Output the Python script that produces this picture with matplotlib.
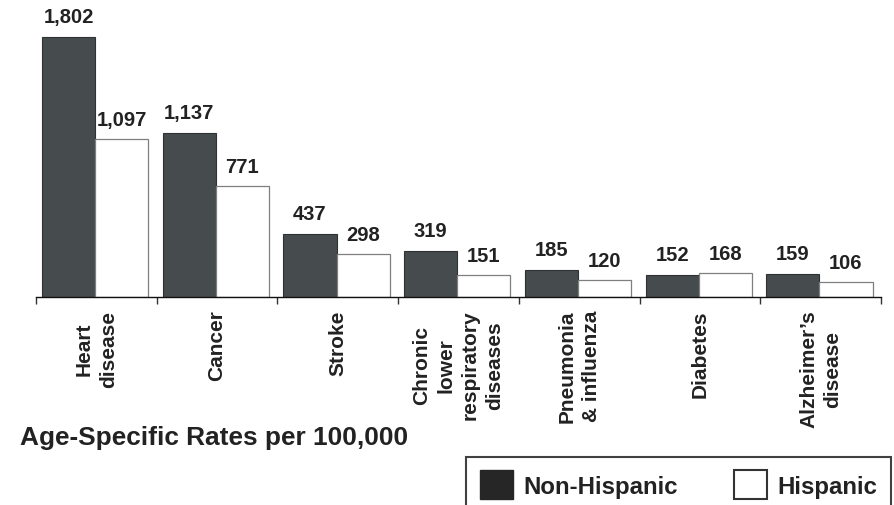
#!/usr/bin/env python3
"""
Age-specific death rates, Non-Hispanic vs Hispanic
"""

import matplotlib
matplotlib.use('Agg')
import matplotlib.pyplot as plt
from matplotlib.patches import Patch
import numpy as np

plt.rcParams['font.family'] = ['Liberation Sans', 'DejaVu Sans']
plt.rcParams['font.weight'] = 'bold'

# 数据
causes = ['Heart\ndisease', 'Cancer', 'Stroke',
          'Chronic\nlower\nrespiratory\ndiseases',
          'Pneumonia\n& influenza', 'Diabetes', 'Alzheimer\u2019s\ndisease']
non_hispanic = [1802, 1137, 437, 319, 185, 152, 159]
hispanic = [1097, 771, 298, 151, 120, 168, 106]
value_labels_nh = ['1,802', '1,137', '437', '319', '185', '152', '159']
value_labels_h = ['1,097', '771', '298', '151', '120', '168', '106']

# 配色
colors = {
    'dark': '#464C4E',
    'dark_edge': '#2E3233',
    'white': '#FFFFFF',
    'white_edge': '#7F7F7F',
    'text': '#222222',
    'legend_dark': '#262626',
}

fig = plt.figure(figsize=(8.95, 5.06), dpi=100)
ax = fig.add_axes([36 / 895, 1 - 298 / 506, 845 / 895, 288.6 / 506])

x = np.arange(len(causes))
w = 0.44
ax.bar(x + 0.05, non_hispanic, width=w, align='edge', color=colors['dark'],
       edgecolor=colors['dark_edge'], linewidth=0.8)
ax.bar(x + 0.49, hispanic, width=w, align='edge', color=colors['white'],
       edgecolor=colors['white_edge'], linewidth=0.9)

# 数值标签
for i in range(len(causes)):
    ax.annotate(value_labels_nh[i], (x[i] + 0.05 + w / 2, non_hispanic[i]),
                xytext=(0, 8), textcoords='offset points', ha='center', va='bottom',
                fontsize=14.5, fontweight='bold', color=colors['text'])
    ax.annotate(value_labels_h[i], (x[i] + 0.49 + w / 2, hispanic[i]),
                xytext=(0, 7), textcoords='offset points', ha='center', va='bottom',
                fontsize=14.5, fontweight='bold', color=colors['text'])

ax.set_xlim(0, len(causes))
ax.set_ylim(0, 2000)

# 坐标轴
for s in ['top', 'right', 'left']:
    ax.spines[s].set_visible(False)
ax.spines['bottom'].set_color('#111111')
ax.spines['bottom'].set_linewidth(1.0)
ax.set_yticks([])
ax.set_xticks(np.arange(len(causes) + 1))
ax.set_xticklabels([])
ax.tick_params(axis='x', which='major', direction='out', length=5, width=1.0, color='#333333')
ax.set_xticks(x + 0.5, minor=True)
ax.set_xticklabels(causes, minor=True, rotation=90, fontsize=15, fontweight='bold',
                   color=colors['text'], multialignment='center', linespacing=1.35)
ax.tick_params(axis='x', which='minor', length=0, pad=9)

# 标题
fig.text(20 / 895, 1 - 445 / 506, 'Age-Specific Rates per 100,000', fontsize=18.9,
         fontweight='bold', color=colors['text'], ha='left', va='baseline')

# 图例
handles = [Patch(facecolor=colors['legend_dark'], edgecolor=colors['legend_dark']),
           Patch(facecolor='white', edgecolor='#333333', linewidth=1.5)]
leg = fig.legend(handles, ['Non-Hispanic', 'Hispanic'], ncol=2,
                 loc='lower left', bbox_to_anchor=(466 / 895, -0.016),
                 prop={'family': 'Liberation Sans', 'weight': 'bold', 'size': 17.3},
                 frameon=True, fancybox=False, edgecolor='#111111',
                 handlelength=1.375, handleheight=1.46, handletextpad=0.45,
                 columnspacing=2.3, borderpad=0.58, borderaxespad=0)
leg.get_frame().set_linewidth(1.5)
for t in leg.get_texts():
    t.set_color(colors['text'])

plt.savefig('out.png', dpi=100, facecolor='white')
